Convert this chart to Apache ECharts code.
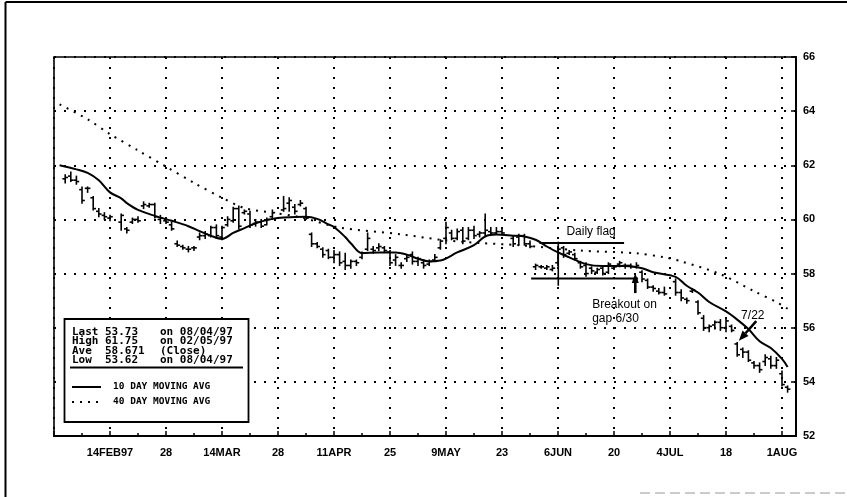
<!DOCTYPE html>
<html>
<head>
<meta charset="utf-8">
<script src="https://cdn.jsdelivr.net/npm/echarts@6/dist/echarts.min.js"></script>
<style>
html,body{margin:0;padding:0;background:#fff;}
#c{width:847px;height:497px;}
</style>
</head>
<body>
<div id="c"></div>
<script>
// ---------------- DATA ----------------
const barDates = ['02/04','02/05','02/06','02/07','02/10','02/11','02/12','02/13','02/14','02/18','02/19','02/20','02/21','02/24','02/25','02/26','02/27','02/28','03/03','03/04','03/05','03/06','03/07','03/10','03/11','03/12','03/13','03/14','03/17','03/18','03/19','03/20','03/21','03/24','03/25','03/26','03/27','03/31','04/01','04/02','04/03','04/04','04/07','04/08','04/09','04/10','04/11','04/14','04/15','04/16','04/17','04/18','04/21','04/22','04/23','04/24','04/25','04/28','04/29','04/30','05/01','05/02','05/05','05/06','05/07','05/08','05/09','05/12','05/13','05/14','05/15','05/16','05/19','05/20','05/21','05/22','05/23','05/27','05/28','05/29','05/30','06/02','06/03','06/04','06/05','06/06','06/09','06/10','06/11','06/12','06/13','06/16','06/17','06/18','06/19','06/20','06/23','06/24','06/25','06/26','06/27','06/30','07/01','07/02','07/03','07/07','07/08','07/09','07/10','07/11','07/14','07/15','07/16','07/17','07/18','07/21','07/22','07/23','07/24','07/25','07/28','07/29','07/30','07/31','08/01','08/04'];
const opens  = [61.5,61.6,61.45,61.1,61.15,60.8,60.3,60.15,60.05,59.9,59.65,59.9,60.0,60.5,60.5,60.55,60.0,59.95,59.8,59.1,59.0,58.9,58.95,59.35,59.4,59.4,59.7,59.35,59.8,59.95,60.4,60.25,60.2,59.85,59.9,59.8,60.1,60.35,60.6,60.45,60.55,60.4,59.45,59.1,58.9,58.85,58.6,58.7,58.45,58.3,58.45,58.6,58.9,58.9,58.95,58.95,58.8,58.5,58.3,58.55,58.7,58.45,58.4,58.35,58.5,58.95,59.3,59.5,59.3,59.6,59.3,59.6,59.45,59.5,59.55,59.5,59.55,59.3,59.35,59.4,59.1,58.25,58.25,58.2,58.15,58.4,58.95,58.75,58.7,58.4,58.3,58.2,58.05,58.2,58.05,58.2,58.35,58.3,58.3,58.25,58.05,57.75,57.5,57.35,57.3,57.7,57.3,57.05,57.35,56.95,56.35,56.0,56.1,56.2,56.0,56.05,55.4,55.2,55.1,54.7,54.6,54.75,54.85,54.6,54.3,53.8];
const highs  = [61.65,61.75,61.6,61.2,61.2,60.85,60.4,60.25,60.15,60.2,59.7,60.05,60.1,60.65,60.6,60.6,60.15,60.05,59.9,59.2,59.05,59.0,59.0,59.5,59.55,59.75,59.8,59.75,60.1,60.45,60.5,60.35,60.3,60.0,60.0,60.05,60.35,60.85,60.8,60.55,60.7,60.45,59.5,59.15,58.95,58.9,58.85,58.8,58.75,58.5,58.5,58.8,59.5,59.0,59.1,59.0,58.85,58.7,58.4,58.7,58.8,58.6,58.5,58.5,58.7,59.25,59.9,59.6,59.65,59.7,59.7,59.75,59.55,60.2,59.7,59.7,59.7,59.4,59.45,59.45,59.2,58.35,58.3,58.3,58.3,59.0,59.0,58.85,58.75,58.45,58.4,58.25,58.2,58.3,58.4,58.3,58.45,58.35,58.35,58.4,58.1,57.8,57.55,57.45,57.5,57.8,57.4,57.1,57.45,57.0,56.45,56.1,56.25,56.3,56.35,56.1,55.45,55.25,55.15,54.75,54.7,55.0,54.95,54.9,54.4,53.85];
const lows   = [61.35,61.4,61.3,60.6,61.0,60.35,60.1,60.0,59.95,59.6,59.5,59.85,59.9,60.4,60.45,60.05,59.85,59.85,59.6,59.0,58.9,58.8,58.85,59.25,59.3,59.35,59.3,59.25,59.75,59.9,59.65,60.2,59.7,59.75,59.7,59.8,60.0,60.3,60.3,60.2,60.5,60.0,59.0,58.95,58.6,58.55,58.4,58.3,58.15,58.2,58.3,58.55,58.85,58.75,58.85,58.8,58.3,58.3,58.2,58.45,58.35,58.3,58.2,58.3,58.45,58.9,59.1,59.25,59.25,59.1,59.25,59.3,59.35,59.4,59.45,59.45,59.45,59.0,59.05,59.05,58.95,58.15,58.2,58.15,58.1,58.3,58.6,58.7,58.5,58.2,57.9,58.0,58.0,57.95,58.0,58.15,58.25,58.2,58.2,58.2,57.7,57.45,57.35,57.25,57.2,57.2,57.0,56.9,57.3,56.5,55.9,55.85,55.95,55.9,55.85,55.85,54.95,54.9,54.75,54.5,54.35,54.6,54.5,54.5,53.85,53.62];
const closes = [61.55,61.45,61.4,60.7,61.15,60.4,60.2,60.1,60.1,60.15,59.6,60.0,59.95,60.55,60.55,60.1,60.05,59.9,59.65,59.05,58.95,58.9,58.95,59.4,59.45,59.7,59.4,59.7,60.0,60.4,59.75,60.3,59.8,59.9,59.75,60.0,60.25,60.4,60.7,60.3,60.6,60.05,59.1,59.0,58.7,58.6,58.7,58.4,58.3,58.45,58.4,58.75,59.3,58.85,59.0,58.85,58.4,58.6,58.3,58.6,58.45,58.55,58.3,58.45,58.6,59.2,59.7,59.3,59.55,59.2,59.6,59.4,59.5,59.6,59.5,59.55,59.5,59.1,59.4,59.1,59.0,58.3,58.25,58.25,58.2,58.9,58.7,58.8,58.55,58.25,58.0,58.1,58.15,58.0,58.35,58.25,58.4,58.3,58.25,58.3,57.8,57.5,57.45,57.3,57.25,57.3,57.1,57.0,57.4,56.55,56.0,56.05,56.2,56.0,56.25,55.9,55.0,55.1,54.8,54.6,54.45,54.9,54.6,54.8,53.9,53.73];

const ma10Dates = ['02/03','02/06','02/10','02/12','02/14','02/18','02/19','02/21','02/26','03/03','03/06','03/10','03/12','03/14','03/18','03/20','03/24','03/27','03/31','04/04','04/08','04/10','04/11','04/15','04/16','04/18','04/23','04/28','04/30','05/02','05/06','05/08','05/13','05/16','05/20','05/22','05/27','05/29','06/02','06/04','06/06','06/10','06/13','06/18','06/24','06/27','07/01','07/07','07/09','07/11','07/15','07/18','07/22','07/24','07/28','07/30','08/01','08/04'];
const ma10 = [62.0,61.85,61.72,61.45,61.0,60.78,60.6,60.35,60.13,59.95,59.75,59.57,59.4,59.28,59.5,59.68,59.86,60.02,60.07,60.1,60.02,59.82,59.72,59.35,59.12,58.76,58.78,58.78,58.7,58.55,58.45,58.48,58.78,59.05,59.37,59.44,59.4,59.37,59.25,59.0,58.78,58.6,58.35,58.28,58.28,58.2,58.05,57.88,57.55,57.3,56.95,56.6,56.3,55.95,55.5,55.25,54.85,54.55];

const ma40Dates = ['02/03','02/10','02/14','02/21','02/28','03/07','03/14','03/20','03/27','04/03','04/14','04/29','05/08','05/19','05/28','06/12','06/26','07/03','07/08','07/17','07/25','07/31','08/04'];
const ma40 = [64.25,63.7,63.15,62.55,61.95,61.35,60.8,60.42,60.25,60.08,59.7,59.45,59.25,59.13,59.05,58.85,58.75,58.6,58.45,57.98,57.35,56.95,56.7];

const tickDates  = ['02/14','02/28','03/14','03/28','04/11','04/25','05/09','05/23','06/06','06/20','07/04','07/18','08/01'];
const tickLabels = ['14FEB97','28','14MAR','28','11APR','25','9MAY','23','6JUN','20','4JUL','18','1AUG'];

const statNames  = ['Last','High','Ave','Low'];
const statValues = ['53.73','61.75','58.671','53.62'];
const statNotes  = ['on 08/04/97','on 02/05/97','(Close)','on 08/04/97'];
const maLegend   = ['10 DAY MOVING AVG','40 DAY MOVING AVG'];

// weekday index relative to 14 Feb 1997
function dayIndex(md) {
  const p = md.split('/').map(Number);
  const target = Date.UTC(1997, p[0] - 1, p[1]);
  const origin = Date.UTC(1997, 1, 14);
  const step = target >= origin ? 1 : -1;
  let n = 0;
  for (let t = origin; t !== target;) {
    t += step * 86400000;
    const wd = new Date(t).getUTCDay();
    if (wd !== 0 && wd !== 6) n += step;
  }
  return n;
}

const labelMap = {};
tickDates.forEach((d, i) => { labelMap[dayIndex(d)] = tickLabels[i]; });

const bars = barDates.map((d, i) => [dayIndex(d), opens[i], highs[i], lows[i], closes[i]]);
const ma10Data = ma10Dates.map((d, i) => [dayIndex(d), ma10[i]]);
const ma40Data = ma40Dates.map((d, i) => [dayIndex(d), ma40[i]]);

// ---------------- CHART ----------------
const chart = echarts.init(document.getElementById('c'), null, {renderer: 'canvas'});
const AX = 'Liberation Sans';
const dotGrid = {show: true, lineStyle: {color: '#000', width: 2, type: [2, 8]}};

chart.setOption({
  backgroundColor: '#fff',
  animation: false,
  grid: {left: 54, top: 57, width: 742, height: 379, show: true, borderColor: '#000', borderWidth: 1.6, backgroundColor: 'transparent', containLabel: false, outerBoundsMode: 'none'},
  xAxis: {
    type: 'value', min: -10, max: 122.5, interval: 10,
    axisLine: {show: true, onZero: false, lineStyle: {color: '#000', width: 2}},
    axisTick: {show: true, inside: true, length: 5, lineStyle: {color: '#000', width: 1.5}},
    minorTick: {show: true, splitNumber: 2, length: 3, lineStyle: {color: '#000', width: 1.5}},
    axisLabel: {
      margin: 11, color: '#000', fontFamily: AX, fontWeight: 'bold', fontSize: 11,
      formatter: v => labelMap[v] || '', showMinLabel: true, showMaxLabel: true
    },
    splitLine: dotGrid
  },
  yAxis: {
    type: 'value', position: 'right', min: 52, max: 66, interval: 2,
    axisLine: {show: true, onZero: false, lineStyle: {color: '#000', width: 2}},
    axisTick: {show: true, inside: true, length: 5, lineStyle: {color: '#000', width: 1.5}},
    axisLabel: {margin: 7, color: '#000', fontFamily: AX, fontWeight: 'bold', fontSize: 11},
    splitLine: dotGrid
  },
  series: [
    {
      type: 'line', name: '40 DAY', data: ma40Data, showSymbol: false, smooth: 0.3,
      lineStyle: {color: '#000', width: 2, type: [2, 6]}, z: 3
    },
    {
      type: 'line', name: '10 DAY', data: ma10Data, showSymbol: false, smooth: 0.35,
      lineStyle: {color: '#000', width: 2}, z: 4
    },
    {
      type: 'custom', name: 'bars', data: bars, z: 5,
      encode: {x: 0, y: [1, 2, 3, 4]},
      renderItem: function (params, api) {
        const x = api.value(0);
        const ph = api.coord([x, api.value(2)]);
        const pl = api.coord([x, api.value(3)]);
        const po = api.coord([x, api.value(1)]);
        const pc = api.coord([x, api.value(4)]);
        const st = {stroke: '#000', lineWidth: 1.6};
        return {type: 'group', children: [
          {type: 'line', shape: {x1: ph[0], y1: ph[1] - 0.5, x2: pl[0], y2: pl[1] + 0.5}, style: st},
          {type: 'line', shape: {x1: po[0] - 2.8, y1: po[1], x2: po[0], y2: po[1]}, style: st},
          {type: 'line', shape: {x1: pc[0], y1: pc[1], x2: pc[0] + 2.8, y2: pc[1]}, style: st}
        ]};
      }
    }
  ]
});

// ---------------- ANNOTATIONS ----------------
const toPx = (x, y) => chart.convertToPixel({gridIndex: 0}, [x, y]);
function seg(a, b, w) {
  return {type: 'line', z: 20, shape: {x1: a[0], y1: a[1], x2: b[0], y2: b[1]}, style: {stroke: '#000', lineWidth: w}};
}
function arrow(p0, p1, len, w) {
  const dx = p1[0] - p0[0], dy = p1[1] - p0[1];
  const L = Math.hypot(dx, dy), ux = dx / L, uy = dy / L;
  const bx = p1[0] - ux * len, by = p1[1] - uy * len;
  const nx = -uy, ny = ux;
  return [
    seg(p0, [bx, by], 2.6),
    {type: 'polygon', z: 20, shape: {points: [[p1[0], p1[1]], [bx + nx * w / 2, by + ny * w / 2], [bx - nx * w / 2, by - ny * w / 2]]}, style: {fill: '#000'}}
  ];
}
function txt(p, s, size, font, weight, sx) {
  return {type: 'text', z: 30, x: p[0], y: p[1], scaleX: sx || 1,
    style: {text: s, fill: '#000', fontSize: size, fontFamily: font, fontWeight: weight || 'normal', align: 'left', verticalAlign: 'middle'}};
}

const g = [];
// outer page border (scan frame)
g.push({type: 'line', z: 1, shape: {x1: 5.5, y1: 2, x2: 847, y2: 2}, style: {stroke: '#000', lineWidth: 2}});
g.push({type: 'line', z: 1, shape: {x1: 5.5, y1: 2, x2: 5.5, y2: 497}, style: {stroke: '#000', lineWidth: 2}});
g.push({type: 'line', z: 1, shape: {x1: 640, y1: 493, x2: 847, y2: 493}, style: {stroke: '#bbb', lineWidth: 1.5, lineDash: [10, 5]}});

// daily flag
g.push(seg(toPx(76.7, 59.13), toPx(91.8, 59.13), 2));
g.push(seg(toPx(75.2, 57.82), toPx(94.3, 57.82), 2));
g.push(seg(toPx(80.05, 59.18), toPx(80.05, 57.55), 1.6));
g.push(txt(toPx(81.5, 59.55), 'Daily flag', 12, AX));
// breakout arrow
arrow(toPx(93.8, 57.28), toPx(93.8, 58.02), 10, 7).forEach(e => g.push(e));
g.push(txt(toPx(86.1, 56.86), 'Breakout on', 12, AX));
g.push(txt(toPx(86.1, 56.34), 'gap 6/30', 12, AX));
// 7/22 arrow
arrow(toPx(115.4, 56.24), toPx(112.3, 55.52), 10, 8).forEach(e => g.push(e));
g.push(txt(toPx(112.7, 56.45), '7/22', 12, AX));

// legend box
g.push({type: 'rect', z: 25, shape: {x: 64.5, y: 319, width: 184, height: 103}, style: {fill: '#fff', stroke: '#000', lineWidth: 1.8}});
const LF = 'DejaVu Sans Mono';
const rowY = [332, 341.5, 351, 360.5];
statNames.forEach((n, i) => {
  g.push(txt([72, rowY[i]], n, 10, LF, 'bold', 1.1));
  g.push(txt([105, rowY[i]], statValues[i], 10, LF, 'bold', 1.1));
  g.push(txt([160, rowY[i]], statNotes[i], 10, LF, 'bold', 1.1));
});
g.push({type: 'line', z: 30, shape: {x1: 70, y1: 367.5, x2: 243, y2: 367.5}, style: {stroke: '#000', lineWidth: 1.8}});
g.push({type: 'line', z: 30, shape: {x1: 72, y1: 387, x2: 101, y2: 387}, style: {stroke: '#000', lineWidth: 2}});
g.push({type: 'line', z: 30, shape: {x1: 72, y1: 402, x2: 101, y2: 402}, style: {stroke: '#000', lineWidth: 2, lineDash: [2, 6]}});
g.push(txt([113, 387], maLegend[0], 9.5, LF, 'bold'));
g.push(txt([113, 402], maLegend[1], 9.5, LF, 'bold'));

chart.setOption({graphic: {elements: g}});
</script>
</body>
</html>
